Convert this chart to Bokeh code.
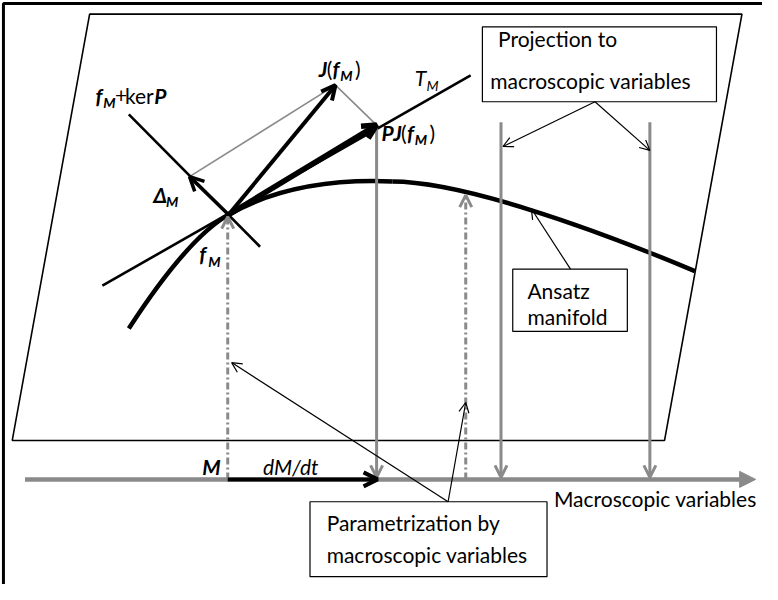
from bokeh.plotting import figure
from bokeh.models import Range1d, Arrow, OpenHead, NormalHead
from bokeh.core.properties import value
from bokeh.embed import file_html
from bokeh.resources import INLINE

# ---- diagram geometry (pixel coordinates of the reference, y downward) ----
frame_x = [3, 3, 778]
frame_y = [600, 3, 3]
plane_x = [91, 757, 678, 12]
plane_y = [14, 14, 452, 452]

fM = (233, 220)
J_tip = (342, 87)
PJ_tip = (384, 128)
Delta_tip = (193, 181)
tangent_x = [104, 480]
tangent_y = [293, 77]
kerP_x = [131, 265]
kerP_y = [117, 253]

# ansatz manifold as cubic bezier segments: x0,y0,cx0,cy0,cx1,cy1,x1,y1
curve_x0 = [131, 233, 400]
curve_y0 = [337, 220, 186]
curve_cx0 = [151, 275, 470]
curve_cy0 = [306, 196, 186]
curve_cx1 = [193, 330, 600]
curve_cy1 = [243, 183, 232]
curve_x1 = [233, 400, 709]
curve_y1 = [220, 186, 278]

axis_y = 492
axis_x = [25, 771]
proj_x = [384, 511, 663]
proj_top = [128, 125, 125]
param_x = [232, 475]
param_top = [222, 200]
dMdt_x = [232, 385]

boxes = dict(left=[492, 523, 316], right=[731, 640, 558],
             top=[27, 276, 515], bottom=[104, 340, 592])
box_text = ["Projection to", "macroscopic variables", "Ansatz", "manifold",
            "Parametrization by", "macroscopic variables", "Macroscopic variables"]
box_text_x = [508, 500, 538, 538, 333, 333, 565]
box_text_y = [47, 90, 306, 332, 544, 577, 519]

pointer_start = [(607, 104), (607, 104), (582, 276), (457, 515), (457, 515)]
pointer_end = [(513, 150), (663, 154), (542, 214), (236, 372), (475, 413)]

# math labels: text, x, baseline y, style, size
lab_text = ["f", "M", "+", "ker", "P",
            "J", "(", "f", "M", ")",
            "T", "M",
            "P", "J", "(", "f", "M", ")",
            "Δ", "M",
            "f", "M",
            "M", "dM/dt"]
lab_x = [97, 105, 117, 127, 157,
         325, 333, 339, 347, 362,
         423, 435,
         389, 401, 409, 415, 423, 438,
         156, 169,
         203, 212,
         206, 268]
lab_y = [105, 110, 105, 105, 105,
         77, 77, 77, 82, 77,
         87, 92,
         143, 143, 143, 143, 148, 143,
         207, 212,
         268, 273,
         486, 486]
lab_style = ["bold italic", "bold italic", "normal", "normal", "bold italic",
             "bold italic", "normal", "bold italic", "bold italic", "normal",
             "italic", "italic",
             "bold italic", "bold italic", "normal", "bold italic", "bold italic", "normal",
             "bold italic", "bold italic",
             "bold italic", "bold italic",
             "bold italic", "italic"]
lab_size = [21, 14, 21, 21, 21,
            21, 21, 21, 14, 21,
            21, 14,
            21, 21, 21, 21, 14, 21,
            21, 14,
            21, 14,
            21, 21]

GRAY = "#8a8a8a"
FONT = value("Lato")
BOX_FS = 21
MID = 0.36  # vertical offset (in em) from baseline to text middle

p = figure(width=762, height=584, x_range=Range1d(0, 778), y_range=Range1d(600, 0),
           output_backend="svg", toolbar_location=None, min_border=0)
p.axis.visible = False
p.grid.visible = False
p.outline_line_color = None
p.background_fill_color = "white"

# outer frame and plane
p.line(frame_x, frame_y, line_color="black", line_width=3)
p.patch(plane_x, plane_y, fill_color=None, line_color="black", line_width=1.6)

# boxes
p.quad(left=boxes["left"], right=boxes["right"], top=boxes["top"], bottom=boxes["bottom"],
       fill_color="white", line_color="black", line_width=1.2)

# horizontal axis
p.add_layout(Arrow(end=NormalHead(size=16, fill_color=GRAY, line_color=GRAY),
                   x_start=axis_x[0], y_start=axis_y, x_end=axis_x[1], y_end=axis_y,
                   line_color=GRAY, line_width=4.5))

# projection verticals
for x, t in zip(proj_x, proj_top):
    p.add_layout(Arrow(end=OpenHead(size=12, line_color=GRAY, line_width=3),
                       x_start=x, y_start=t, x_end=x, y_end=axis_y - 2,
                       line_color=GRAY, line_width=3))
# parametrization dash-dot verticals
for x, t in zip(param_x, param_top):
    p.add_layout(Arrow(end=OpenHead(size=12, line_color=GRAY, line_width=3),
                       x_start=x, y_start=axis_y, x_end=x, y_end=t,
                       line_color=GRAY, line_width=3, line_dash="7 3 2 3"))

# thin gray construction lines
p.line([Delta_tip[0], J_tip[0], PJ_tip[0]], [Delta_tip[1], J_tip[1], PJ_tip[1]],
       line_color=GRAY, line_width=1.6)

# tangent and kernel lines
p.line(tangent_x, tangent_y, line_color="black", line_width=2.6)
p.line(kerP_x, kerP_y, line_color="black", line_width=2.6)

# manifold curve
p.bezier(x0=curve_x0, y0=curve_y0, x1=curve_x1, y1=curve_y1,
         cx0=curve_cx0, cy0=curve_cy0, cx1=curve_cx1, cy1=curve_cy1,
         line_color="black", line_width=4.5)

# vectors
for tip, lw in [(J_tip, 4), (PJ_tip, 5.5), (Delta_tip, 3.5)]:
    p.add_layout(Arrow(end=OpenHead(size=14, line_color="black", line_width=lw),
                       x_start=fM[0], y_start=fM[1], x_end=tip[0], y_end=tip[1],
                       line_color="black", line_width=lw))
p.add_layout(Arrow(end=OpenHead(size=14, line_color="black", line_width=4),
                   x_start=dMdt_x[0], y_start=axis_y, x_end=dMdt_x[1], y_end=axis_y,
                   line_color="black", line_width=4))

# pointer arrows
for s, e in zip(pointer_start, pointer_end):
    p.add_layout(Arrow(end=OpenHead(size=10, line_color="black", line_width=1.2),
                       x_start=s[0], y_start=s[1], x_end=e[0], y_end=e[1],
                       line_color="black", line_width=1.2))

# texts (placed by their middle, computed from the reference baseline)
p.text(x=box_text_x, y=[b - MID * BOX_FS for b in box_text_y], text=box_text,
       text_font=FONT, text_font_size=f"{BOX_FS}px",
       text_baseline="middle", text_align="left", text_color="black")
for t, x, y, st, sz in zip(lab_text, lab_x, lab_y, lab_style, lab_size):
    p.text(x=[x], y=[y - MID * sz], text=[t], text_font=FONT, text_font_size=f"{sz}px",
           text_font_style=st, text_baseline="middle", text_align="left",
           text_color="black")

open("out.html", "w").write(file_html(p, INLINE))
